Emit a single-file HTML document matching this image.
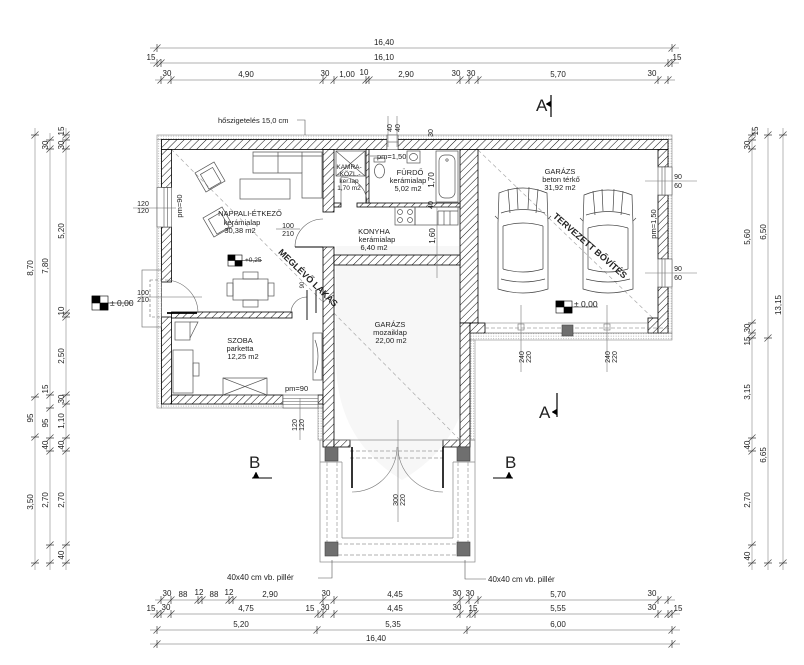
<!DOCTYPE html>
<html><head><meta charset="utf-8"><style>
html,body{margin:0;padding:0;background:#fff;}
svg{display:block;}
text{font-family:"Liberation Sans","DejaVu Sans",sans-serif;fill:#222;}
</style></head><body>
<svg width="804" height="665" viewBox="0 0 804 665" xmlns="http://www.w3.org/2000/svg">
<defs>
<pattern id="h" patternUnits="userSpaceOnUse" width="5.2" height="5.2" patternTransform="rotate(45)">
<rect width="5.2" height="5.2" fill="#fff"/><line x1="0" y1="0" x2="0" y2="5.2" stroke="#111" stroke-width="1"/>
</pattern>
<pattern id="d" patternUnits="userSpaceOnUse" width="2.5" height="2.5">
<rect width="2.5" height="2.5" fill="#fff"/><rect x="0.7" y="0.7" width="0.9" height="0.9" fill="#aaa"/>
</pattern>
</defs>
<rect width="804" height="665" fill="#fff"/>

<!-- watermark shield -->
<path d="M336,246 H470 V360 Q470,440 402,480 Q336,440 336,360 Z" fill="#f7f7f7"/>

<!-- diagonal dashed lines -->
<g stroke="#aaa" stroke-width="0.7" stroke-dasharray="4,3" fill="none">
<line x1="171" y1="149" x2="460" y2="440"/>
<line x1="478" y1="150" x2="658" y2="323"/>
</g>

<!-- insulation -->
<g fill="url(#d)" stroke="#888" stroke-width="0.6">
<rect x="157" y="135" width="515" height="4.5"/>
<rect x="157" y="139.5" width="4.5" height="268.5"/>
<rect x="161.5" y="404" width="161.5" height="4"/>
<rect x="318" y="408" width="5" height="32"/>
<rect x="470" y="333" width="202" height="7"/>
<rect x="470" y="340" width="5" height="100"/>
<rect x="668" y="139.5" width="4" height="193.5"/>
</g>

<!-- walls -->
<g fill="url(#h)" stroke="#000" stroke-width="0.8">
<rect x="161.5" y="139.5" width="225.5" height="10"/>
<rect x="398" y="139.5" width="270" height="10"/>
<rect x="161.5" y="149.5" width="10" height="38"/>
<rect x="161.5" y="227" width="10" height="55"/>
<rect x="161.5" y="317" width="10" height="87"/>
<rect x="171.5" y="395" width="111.5" height="9"/>
<rect x="318" y="395" width="5" height="9"/>
<rect x="323" y="149.5" width="11" height="62.5"/>
<rect x="323" y="247" width="11" height="200"/>
<rect x="334" y="440" width="16" height="7"/>
<rect x="443" y="440" width="17" height="7"/>
<rect x="460" y="149.5" width="18" height="173.5"/>
<rect x="460" y="323" width="10" height="124"/>
<rect x="470" y="323" width="15" height="10"/>
<rect x="648" y="318" width="10" height="15"/>
<rect x="658" y="149.5" width="10" height="17.5"/>
<rect x="658" y="195" width="10" height="64"/>
<rect x="658" y="287" width="10" height="46"/>
<rect x="171.5" y="312" width="120.5" height="6"/>
<rect x="334" y="255" width="126" height="10"/>
<rect x="357" y="203" width="103" height="4"/>
<rect x="334" y="203" width="7" height="4"/>
<rect x="366" y="149.5" width="3" height="53.5"/>
</g>

<!-- windows -->
<g fill="#fff" stroke="#555" stroke-width="0.6">
<rect x="157" y="187.5" width="14.5" height="39.5"/>
<line x1="164" y1="187.5" x2="164" y2="227"/><line x1="167.5" y1="187.5" x2="167.5" y2="227"/>
<rect x="658" y="167" width="14" height="28"/>
<line x1="662" y1="167" x2="662" y2="195"/><line x1="665" y1="167" x2="665" y2="195"/>
<rect x="658" y="259" width="14" height="28"/>
<line x1="662" y1="259" x2="662" y2="287"/><line x1="665" y1="259" x2="665" y2="287"/>
<rect x="283" y="395" width="35" height="13"/>
<line x1="283" y1="398.5" x2="318" y2="398.5"/><line x1="283" y1="401.5" x2="318" y2="401.5"/><line x1="283" y1="404.5" x2="318" y2="404.5"/>
<rect x="387" y="135" width="11" height="14.5"/>
<line x1="387" y1="142" x2="398" y2="142"/>
</g>

<!-- entrance door (left) -->
<g fill="none" stroke="#666" stroke-width="0.6">
<rect x="142" y="270" width="19.5" height="57"/>
<rect x="150" y="280" width="11.5" height="37" stroke-dasharray="3,2"/>
<line x1="140" y1="297" x2="202" y2="297"/>
<line x1="133" y1="208" x2="176" y2="208"/>
<path d="M165,280 A33,33 0 0,1 198,313"/>
</g>
<line x1="167" y1="313" x2="197" y2="313" stroke="#000" stroke-width="1.8"/>

<!-- nappali/konyha door -->
<g fill="none" stroke="#555" stroke-width="0.6">
<path d="M295,247 A28,28 0 0,1 323,219"/>
<line x1="295" y1="247" x2="323" y2="247" stroke="#000" stroke-width="1"/>
<line x1="276" y1="229" x2="300" y2="229"/>
<path d="M291,313 A16,16 0 0,1 307,297"/>
<line x1="307" y1="290" x2="307" y2="320" stroke="#000" stroke-width="0.9"/>
<line x1="316" y1="290" x2="316" y2="313" stroke="#000" stroke-width="0.9"/>
<path d="M341,177 A26,26 0 0,1 367,203"/>
<line x1="341" y1="177" x2="341" y2="203"/>
</g>

<!-- furniture -->
<g fill="none" stroke="#555" stroke-width="0.7">
<path d="M253,152 H322 V198 H302 V173 H253 Z"/>
<line x1="278" y1="152" x2="278" y2="173"/><line x1="302" y1="152" x2="302" y2="173"/>
<line x1="253" y1="156" x2="322" y2="156"/>
<rect x="240" y="179" width="50" height="20"/>
<g transform="translate(210,177) rotate(-30)"><rect x="-11" y="-11" width="22" height="22"/><rect x="-7" y="-7" width="14" height="17"/></g>
<g transform="translate(218,222) rotate(-30)"><rect x="-11" y="-11" width="22" height="22"/><rect x="-7" y="-7" width="14" height="17"/></g>
<rect x="233" y="279" width="35" height="21"/>
<rect x="243" y="272" width="15" height="7"/><rect x="243" y="300" width="15" height="7"/>
<rect x="227" y="283" width="6" height="13"/><rect x="268" y="283" width="6" height="13"/>
<rect x="175" y="322" width="15" height="18"/>
<path d="M190,322 L198,322 L190,338"/>
<rect x="173" y="350" width="20" height="43"/>
<rect x="193" y="363" width="6" height="13"/>
<rect x="223" y="378" width="44" height="17"/>
<path d="M223,378 L267,395 M267,378 L223,395"/>
<rect x="313" y="333" width="9" height="47"/>
<path d="M315,340 Q321,356 315,373"/>
<rect x="336" y="151" width="29" height="25"/>
<path d="M336,151 L365,176 M365,151 L336,176"/>
<rect x="436" y="151" width="22" height="51"/>
<rect x="439" y="155" width="16" height="43" rx="6"/>
<circle cx="447" cy="160" r="1.2"/>
<rect x="374" y="158" width="11" height="4"/>
<ellipse cx="379.5" cy="171" rx="5" ry="7"/>
<rect x="407" y="151" width="13" height="12"/>
<ellipse cx="413.5" cy="157" rx="4" ry="3.5"/>
<rect x="395" y="207" width="20" height="18"/>
<circle cx="400" cy="212" r="2.5"/><circle cx="410" cy="212" r="2.5"/>
<circle cx="400" cy="220" r="2.5"/><circle cx="410" cy="220" r="2.5"/>
<rect x="415" y="207" width="43" height="18"/>
<line x1="438" y1="211" x2="438" y2="225"/><line x1="444" y1="211" x2="444" y2="225"/><line x1="450" y1="211" x2="450" y2="225"/>
<line x1="438" y1="211" x2="458" y2="211"/>
</g>

<!-- cars -->
<g fill="none" stroke="#444" stroke-width="0.7">
<g transform="translate(498,183)">
<path d="M1,10 Q25,0 49,10 L50,40 L50,106 Q25,114 0,106 L0,40 Z"/>
<path d="M3,30 Q25,23 47,30"/><path d="M5,43 Q25,37 45,43"/>
<path d="M5,43 L5,86 M45,43 L45,86"/><path d="M5,86 Q25,92 45,86"/><path d="M3,96 Q25,102 47,96"/>
<path d="M10,6 L12,30 M19,4 L20,26 M31,4 L30,26 M40,6 L38,30"/>
<path d="M0,36 L-3,33 M50,36 L53,33"/>
</g>
<g transform="translate(583,185)">
<path d="M1,10 Q25,0 49,10 L50,40 L50,104 Q25,112 0,104 L0,40 Z"/>
<path d="M3,30 Q25,23 47,30"/><path d="M5,43 Q25,37 45,43"/>
<path d="M5,43 L5,84 M45,43 L45,84"/><path d="M5,84 Q25,90 45,84"/><path d="M3,94 Q25,100 47,94"/>
<path d="M10,6 L12,30 M19,4 L20,26 M31,4 L30,26 M40,6 L38,30"/>
<path d="M0,36 L-3,33 M50,36 L53,33"/>
</g>
</g>

<!-- right garage door & misc lines -->
<g fill="none" stroke="#777" stroke-width="0.6">
<line x1="485" y1="323" x2="648" y2="323"/>
<line x1="485" y1="328" x2="668" y2="328" stroke-dasharray="4,2"/>
<line x1="470" y1="333" x2="672" y2="333"/>
<rect x="518" y="324" width="6" height="6"/><rect x="604" y="324" width="6" height="6"/>
<line x1="521" y1="305" x2="521" y2="372"/>
<line x1="607" y1="305" x2="607" y2="372"/>
<line x1="437" y1="207" x2="437" y2="278"/>
<line x1="645" y1="181" x2="697" y2="181"/>
<line x1="645" y1="273" x2="697" y2="273"/>
<line x1="300" y1="398" x2="300" y2="440"/>
<line x1="388" y1="116" x2="388" y2="147"/><line x1="397" y1="116" x2="397" y2="147"/>
<line x1="398" y1="420" x2="398" y2="522"/>
</g>

<!-- pergola -->
<g fill="none" stroke="#888" stroke-width="0.7">
<rect x="320" y="440" width="155" height="122"/>
<line x1="342" y1="462" x2="342" y2="538"/>
<line x1="453" y1="462" x2="453" y2="538"/>
<line x1="342" y1="538" x2="453" y2="538"/>
<line x1="320" y1="462" x2="342" y2="462"/><line x1="453" y1="462" x2="475" y2="462"/>
</g>
<g fill="none" stroke="#999" stroke-width="0.7" stroke-dasharray="4,2">
<line x1="327" y1="462" x2="327" y2="542"/><line x1="337" y1="462" x2="337" y2="542"/>
<line x1="458" y1="462" x2="458" y2="542"/><line x1="468" y1="462" x2="468" y2="542"/>
<line x1="338" y1="544" x2="457" y2="544"/><line x1="338" y1="555" x2="457" y2="555"/>
<line x1="350" y1="451" x2="443" y2="451"/><line x1="350" y1="458" x2="443" y2="458"/>
</g>
<g fill="#6f6f6f" stroke="#444" stroke-width="0.6">
<rect x="325" y="447" width="13" height="14"/><rect x="457" y="447" width="13" height="14"/>
<rect x="325" y="542" width="13" height="14"/><rect x="457" y="542" width="13" height="14"/>
<rect x="562" y="325" width="11" height="11"/>
</g>
<g fill="none" stroke="#777" stroke-width="0.6">
<path d="M397,447 A45,45 0 0,1 352,492"/>
<path d="M398,447 A45,45 0 0,0 443,492"/>
</g>
<line x1="352" y1="447" x2="352" y2="488" stroke="#000" stroke-width="1.6"/>
<line x1="443" y1="447" x2="443" y2="488" stroke="#000" stroke-width="1.6"/>

<!-- leaders -->
<g fill="none" stroke="#555" stroke-width="0.6">
<path d="M318,578 H332 V560"/>
<path d="M465,560 V579 H486"/>
<path d="M297,120 H305 V135"/>
<path d="M370,156 H377"/>
</g>

<!-- level markers -->
<g stroke="#000" stroke-width="0.6">
<g transform="translate(92,296)"><rect width="16" height="14" fill="#fff"/><rect width="8" height="7" fill="#000"/><rect x="8" y="7" width="8" height="7" fill="#000"/><line x1="16" y1="7" x2="40" y2="7"/></g>
<g transform="translate(228,255)"><rect width="14" height="11" fill="#fff"/><rect width="7" height="5.5" fill="#000"/><rect x="7" y="5.5" width="7" height="5.5" fill="#000"/><line x1="14" y1="5.5" x2="34" y2="5.5"/></g>
<g transform="translate(556,301)"><rect width="16" height="12" fill="#fff"/><rect width="8" height="6" fill="#000"/><rect x="8" y="6" width="8" height="6" fill="#000"/><line x1="16" y1="6" x2="42" y2="6"/></g>
</g>

<!-- section markers -->
<g stroke="#000" stroke-width="1.2" fill="#000">
<line x1="551" y1="95" x2="551" y2="117"/><polygon points="551,101 546,104 551,107" stroke-width="0.5"/>
<line x1="557" y1="393" x2="557" y2="417"/><polygon points="557,409 552,412 557,415" stroke-width="0.5"/>
<line x1="252" y1="478" x2="272" y2="478" stroke-width="1"/><polygon points="253,478 256,472 259,478" stroke-width="0.5"/>
<line x1="493" y1="478" x2="513" y2="478" stroke-width="1"/><polygon points="506,478 509,472 512,478" stroke-width="0.5"/>
</g>
<g font-size="17">
<text x="536" y="111">A</text>
<text x="539" y="418">A</text>
<text x="249" y="468">B</text>
<text x="505" y="468">B</text>
</g>

<!-- dimension lines -->
<g stroke="#999" stroke-width="0.7" fill="none">
<line x1="150" y1="48" x2="679" y2="48"/>
<line x1="150" y1="63" x2="679" y2="63"/>
<line x1="155" y1="80" x2="675" y2="80"/>
<line x1="155" y1="600" x2="675" y2="600"/>
<line x1="150" y1="614" x2="680" y2="614"/>
<line x1="150" y1="630" x2="680" y2="630"/>
<line x1="150" y1="644" x2="680" y2="644"/>
<line x1="35" y1="128" x2="35" y2="570"/>
<line x1="50" y1="133" x2="50" y2="570"/>
<line x1="66" y1="128" x2="66" y2="570"/>
<line x1="752" y1="128" x2="752" y2="570"/>
<line x1="768" y1="128" x2="768" y2="570"/>
<line x1="783" y1="128" x2="783" y2="570"/>
</g>
<g stroke="#444" stroke-width="0.7" fill="none">
<path d="M153.5,51.5L160.5,44.5M157,44V52M668.5,51.5L675.5,44.5M672,44V52"/>
<path d="M153.5,66.5L160.5,59.5M157,59V67M157.5,66.5L164.5,59.5M161,59V67M664.5,66.5L671.5,59.5M668,59V67M668.5,66.5L675.5,59.5M672,59V67"/>
<path d="M157.5,83.5L164.5,76.5M161,76V84M167.5,83.5L174.5,76.5M171,76V84M319.5,83.5L326.5,76.5M323,76V84M330.5,83.5L337.5,76.5M334,76V84M362.5,83.5L369.5,76.5M366,76V84M365.5,83.5L372.5,76.5M369,76V84M456.5,83.5L463.5,76.5M460,76V84M465.5,83.5L472.5,76.5M469,76V84M474.5,83.5L481.5,76.5M478,76V84M654.5,83.5L661.5,76.5M658,76V84M664.5,83.5L671.5,76.5M668,76V84"/>
<path d="M157.5,603.5L164.5,596.5M161,596V604M167.5,603.5L174.5,596.5M171,596V604M194.5,603.5L201.5,596.5M198,596V604M198.5,603.5L205.5,596.5M202,596V604M225.5,603.5L232.5,596.5M229,596V604M229.5,603.5L236.5,596.5M233,596V604M319.5,603.5L326.5,596.5M323,596V604M330.5,603.5L337.5,596.5M334,596V604M456.5,603.5L463.5,596.5M460,596V604M465.5,603.5L472.5,596.5M469,596V604M474.5,603.5L481.5,596.5M478,596V604M654.5,603.5L661.5,596.5M658,596V604M664.5,603.5L671.5,596.5M668,596V604"/>
<path d="M153.5,617.5L160.5,610.5M157,610V618M157.5,617.5L164.5,610.5M161,610V618M167.5,617.5L174.5,610.5M171,610V618M314.5,617.5L321.5,610.5M318,610V618M319.5,617.5L326.5,610.5M323,610V618M330.5,617.5L337.5,610.5M334,610V618M456.5,617.5L463.5,610.5M460,610V618M466.5,617.5L473.5,610.5M470,610V618M471.5,617.5L478.5,610.5M475,610V618M654.5,617.5L661.5,610.5M658,610V618M664.5,617.5L671.5,610.5M668,610V618M668.5,617.5L675.5,610.5M672,610V618"/>
<path d="M153.5,633.5L160.5,626.5M157,626V634M313.5,633.5L320.5,626.5M317,626V634M463.5,633.5L470.5,626.5M467,626V634M668.5,633.5L675.5,626.5M672,626V634"/>
<path d="M153.5,647.5L160.5,640.5M157,640V648M668.5,647.5L675.5,640.5M672,640V648"/>
<path d="M31.5,138.5L38.5,131.5M31,135H39M31.5,400.5L38.5,393.5M31,397H39M31.5,440.5L38.5,433.5M31,437H39M31.5,566.5L38.5,559.5M31,563H39"/>
<path d="M46.5,143.5L53.5,136.5M46,140H54M46.5,152.5L53.5,145.5M46,149H54M46.5,398.5L53.5,391.5M46,395H54M46.5,411.5L53.5,404.5M46,408H54M46.5,441.5L53.5,434.5M46,438H54M46.5,454.5L53.5,447.5M46,451H54M46.5,548.5L53.5,541.5M46,545H54M46.5,566.5L53.5,559.5M46,563H54"/>
<path d="M62.5,138.5L69.5,131.5M62,135H70M62.5,143.5L69.5,136.5M62,140H70M62.5,152.5L69.5,145.5M62,149H70M62.5,316.5L69.5,309.5M62,313H70M62.5,320.5L69.5,313.5M62,317H70M62.5,398.5L69.5,391.5M62,395H70M62.5,407.5L69.5,400.5M62,404H70M62.5,441.5L69.5,434.5M62,438H70M62.5,454.5L69.5,447.5M62,451H70M62.5,548.5L69.5,541.5M62,545H70M62.5,566.5L69.5,559.5M62,563H70"/>
<path d="M748.5,138.5L755.5,131.5M748,135H756M748.5,143.5L755.5,136.5M748,140H756M748.5,152.5L755.5,145.5M748,149H756M748.5,326.5L755.5,319.5M748,323H756M748.5,336.5L755.5,329.5M748,333H756M748.5,341.5L755.5,334.5M748,338H756M748.5,441.5L755.5,434.5M748,438H756M748.5,454.5L755.5,447.5M748,451H756M748.5,548.5L755.5,541.5M748,545H756M748.5,566.5L755.5,559.5M748,563H756"/>
<path d="M764.5,138.5L771.5,131.5M764,135H772M764.5,341.5L771.5,334.5M764,338H772M764.5,566.5L771.5,559.5M764,563H772"/>
<path d="M779.5,138.5L786.5,131.5M779,135H787M779.5,566.5L786.5,559.5M779,563H787"/>
</g>

<!-- dimension texts horizontal -->
<g font-size="8" text-anchor="middle">
<text x="384" y="45">16,40</text>
<text x="384" y="60">16,10</text>
<text x="151" y="60">15</text><text x="677" y="60">15</text>
<text x="167" y="76">30</text><text x="246" y="77">4,90</text><text x="325" y="76">30</text>
<text x="347" y="77">1,00</text><text x="364" y="75">10</text><text x="406" y="77">2,90</text>
<text x="456" y="76">30</text><text x="471" y="76">30</text><text x="558" y="77">5,70</text><text x="652" y="76">30</text>
<text x="167" y="596">30</text><text x="183" y="597">88</text><text x="199" y="595">12</text>
<text x="214" y="597">88</text><text x="229" y="595">12</text><text x="270" y="597">2,90</text>
<text x="326" y="596">30</text><text x="395" y="597">4,45</text><text x="457" y="596">30</text><text x="470" y="596">30</text>
<text x="558" y="597">5,70</text><text x="652" y="596">30</text>
<text x="151" y="611">15</text><text x="166" y="610">30</text><text x="246" y="611">4,75</text>
<text x="310" y="611">15</text><text x="325" y="610">30</text><text x="395" y="611">4,45</text>
<text x="457" y="610">30</text><text x="473" y="611">15</text><text x="558" y="611">5,55</text>
<text x="652" y="610">30</text><text x="678" y="611">15</text>
<text x="241" y="627">5,20</text><text x="393" y="627">5,35</text><text x="558" y="627">6,00</text>
<text x="376" y="641">16,40</text>
</g>

<!-- dimension texts vertical -->
<g font-size="8" text-anchor="middle">
<text transform="translate(33,268) rotate(-90)">8,70</text>
<text transform="translate(33,418) rotate(-90)">95</text>
<text transform="translate(33,502) rotate(-90)">3,50</text>
<text transform="translate(48,145) rotate(-90)">30</text>
<text transform="translate(48,266) rotate(-90)">7,80</text>
<text transform="translate(48,389) rotate(-90)">15</text>
<text transform="translate(48,423) rotate(-90)">95</text>
<text transform="translate(48,445) rotate(-90)">40</text>
<text transform="translate(48,500) rotate(-90)">2,70</text>
<text transform="translate(64,131) rotate(-90)">15</text>
<text transform="translate(64,145) rotate(-90)">30</text>
<text transform="translate(64,231) rotate(-90)">5,20</text>
<text transform="translate(64,311) rotate(-90)">10</text>
<text transform="translate(64,356) rotate(-90)">2,50</text>
<text transform="translate(64,399) rotate(-90)">30</text>
<text transform="translate(64,421) rotate(-90)">1,10</text>
<text transform="translate(64,445) rotate(-90)">40</text>
<text transform="translate(64,500) rotate(-90)">2,70</text>
<text transform="translate(64,555) rotate(-90)">40</text>
<text transform="translate(750,145) rotate(-90)">30</text>
<text transform="translate(758,131) rotate(-90)">15</text>
<text transform="translate(750,237) rotate(-90)">5,60</text>
<text transform="translate(750,328) rotate(-90)">30</text>
<text transform="translate(750,341) rotate(-90)">15</text>
<text transform="translate(750,392) rotate(-90)">3,15</text>
<text transform="translate(750,445) rotate(-90)">40</text>
<text transform="translate(750,500) rotate(-90)">2,70</text>
<text transform="translate(750,556) rotate(-90)">40</text>
<text transform="translate(766,232) rotate(-90)">6,50</text>
<text transform="translate(766,455) rotate(-90)">6,65</text>
<text transform="translate(781,305) rotate(-90)">13,15</text>
</g>

<!-- small labels -->
<g font-size="7" text-anchor="middle">
<text x="143" y="206">120</text><text x="143" y="213">120</text>
<text x="143" y="295">100</text><text x="143" y="302">210</text>
<text x="288" y="228">100</text><text x="288" y="236">210</text>
<text x="678" y="179">90</text><text x="678" y="188">60</text>
<text x="678" y="271">90</text><text x="678" y="280">60</text>
<text transform="translate(392,128) rotate(-90)">40</text>
<text transform="translate(400,128) rotate(-90)">40</text>
<text transform="translate(433,133) rotate(-90)">30</text>
<text transform="translate(434,180) rotate(-90)" font-size="8">1,70</text>
<text transform="translate(433,205) rotate(-90)">40</text>
<text transform="translate(435,236) rotate(-90)" font-size="8">1,60</text>
<text transform="translate(304,285) rotate(-90)" font-size="6">90</text>
<text transform="translate(297,425) rotate(-90)">120</text>
<text transform="translate(304,425) rotate(-90)">120</text>
<text transform="translate(524,357) rotate(-90)">240</text>
<text transform="translate(531,357) rotate(-90)">220</text>
<text transform="translate(610,357) rotate(-90)">240</text>
<text transform="translate(617,357) rotate(-90)">220</text>
<text transform="translate(398,500) rotate(-90)">300</text>
<text transform="translate(405,500) rotate(-90)">220</text>
<text transform="translate(182,206) rotate(-90)" font-size="7.5">pm=90</text>
<text transform="translate(656,224) rotate(-90)" font-size="7.5">pm=1,50</text>
</g>
<g font-size="7.5">
<text x="218" y="123">hőszigetelés 15,0 cm</text>
<text x="377" y="159">pm=1,50</text>
<text x="285" y="391">pm=90</text>
<text x="110" y="306" font-size="8.5">± 0,00</text>
<text x="245" y="262" font-size="6.5">+0,25</text>
<text x="574" y="307" font-size="8.5">± 0,00</text>
<text x="227" y="580" font-size="8">40x40 cm vb. pillér</text>
<text x="488" y="582" font-size="8">40x40 cm vb. pillér</text>
</g>

<!-- room labels -->
<g font-size="7.5" text-anchor="middle">
<text x="250" y="216">NAPPALI-ÉTKEZŐ</text>
<text x="242" y="225">kerámialap</text>
<text x="240" y="233">30,38 m2</text>
<text x="374" y="234">KONYHA</text>
<text x="377" y="242">kerámialap</text>
<text x="374" y="250">6,40 m2</text>
<text x="410" y="175">FÜRDŐ</text>
<text x="408" y="183">kerámialap</text>
<text x="408" y="191">5,02 m2</text>
<text x="349" y="169" font-size="6.5">KAMRA-</text>
<text x="349" y="176" font-size="6.5">-KÖZL.-</text>
<text x="349" y="183" font-size="6.5">ker.lap</text>
<text x="349" y="190" font-size="6.5">1,70 m2</text>
<text x="240" y="343">SZOBA</text>
<text x="240" y="351">parketta</text>
<text x="243" y="359">12,25 m2</text>
<text x="390" y="327">GARÁZS</text>
<text x="390" y="335">mozaiklap</text>
<text x="391" y="343">22,00 m2</text>
<text x="560" y="174">GARÁZS</text>
<text x="561" y="182">beton térkő</text>
<text x="560" y="190">31,92 m2</text>
</g>
<g font-size="9" font-weight="bold" text-anchor="middle">
<text transform="translate(306,280) rotate(44)">MEGLÉVŐ LAKÁS</text>
<text transform="translate(588,248) rotate(41)">TERVEZETT BŐVÍTÉS</text>
</g>
</svg>
</body></html>
